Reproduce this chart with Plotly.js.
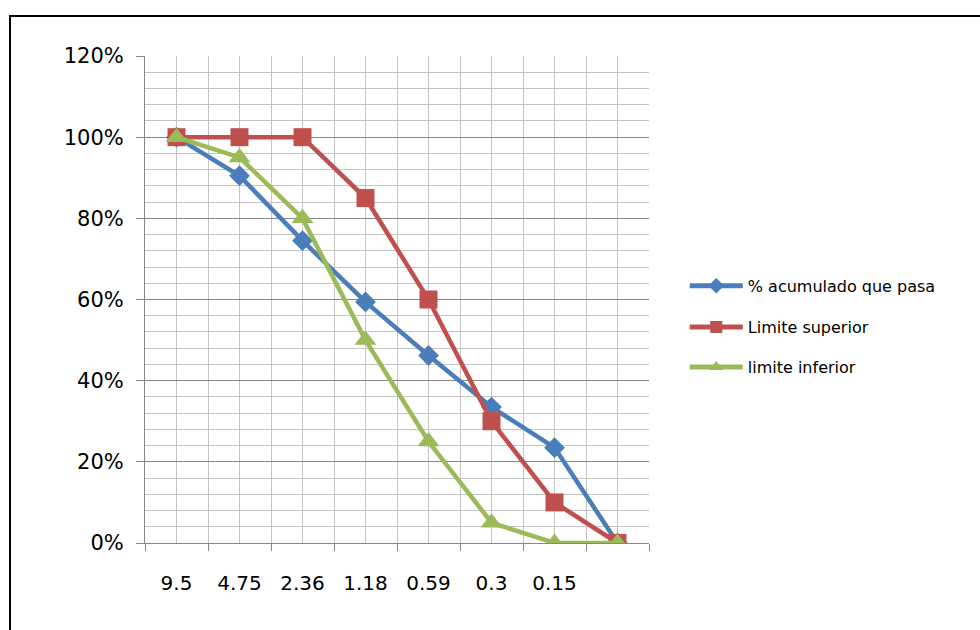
<!DOCTYPE html>
<html>
<head>
<meta charset="utf-8">
<script src="https://cdn.plot.ly/plotly-3.0.1.min.js"></script>
<style>
  html, body { margin: 0; padding: 0; background: #fff; width: 980px; height: 630px; overflow: hidden; }
  #frame { position: absolute; left: 9px; top: 15px; width: 1000px; height: 700px; border: 2px solid #000; box-sizing: border-box; }
  #chart { position: absolute; left: 0; top: 0; width: 980px; height: 630px; }
</style>
</head>
<body>
<div id="frame"></div>
<div id="chart"></div>
<script>
// Sieve sizes (mm); the last category has no label
const categories = ["9.5", "4.75", "2.36", "1.18", "0.59", "0.3", "0.15", ""];
const acumulado = [1.00, 0.905, 0.745, 0.594, 0.462, 0.335, 0.235, 0.00];
const limiteSuperior = [1.00, 1.00, 1.00, 0.85, 0.60, 0.30, 0.10, 0.00];
const limiteInferior = [1.00, 0.95, 0.80, 0.50, 0.25, 0.05, 0.00, 0.00];
const seriesNames = ["% acumulado que pasa", "Limite superior", "limite inferior"];
const yTicks = [0, 0.2, 0.4, 0.6, 0.8, 1.0, 1.2];

const xIdx = categories.map((_, i) => i);
const blue = "#4A7EBB", red = "#C0504D", green = "#9BBB59";

const traces = [
  { x: xIdx, y: acumulado, name: seriesNames[0], type: "scatter", mode: "lines+markers",
    line: { color: blue, width: 4.5 }, marker: { symbol: "diamond", size: 16, color: blue },
    legend: "legend" },
  { x: xIdx, y: limiteSuperior, name: seriesNames[1], type: "scatter", mode: "lines+markers",
    line: { color: red, width: 4.5 }, marker: { symbol: "square", size: 18, color: red },
    legend: "legend2" },
  { x: xIdx, y: limiteInferior, name: seriesNames[2], type: "scatter", mode: "lines+markers",
    line: { color: green, width: 4.5 }, marker: { symbol: "triangle-up", size: 19, color: green },
    legend: "legend3" }
];

const legendBase = {
  xref: "paper", yref: "paper", x: 1.071, xanchor: "left", yanchor: "middle",
  bgcolor: "rgba(0,0,0,0)", borderwidth: 0, itemwidth: 53, itemsizing: "constant",
  font: { family: "DejaVu Sans, sans-serif", size: 16, color: "#000" }
};

const layout = {
  width: 980, height: 630,
  margin: { l: 145, r: 331, t: 56, b: 87 },
  paper_bgcolor: "rgba(0,0,0,0)",
  plot_bgcolor: "rgba(0,0,0,0)",
  font: { family: "DejaVu Sans, sans-serif", color: "#000" },
  showlegend: true,
  legend: Object.assign({}, legendBase, { y: 0.528 }),
  legend2: Object.assign({}, legendBase, { y: 0.4435 }),
  legend3: Object.assign({}, legendBase, { y: 0.361 }),
  xaxis: {
    range: [-0.5, categories.length - 0.5],
    tickmode: "array", tickvals: xIdx, ticktext: categories,
    ticks: "", showgrid: true, gridcolor: "#C4C4C4", gridwidth: 1,
    tickfont: { family: "DejaVu Sans, sans-serif", size: 20, color: "#000" },
    ticklabelstandoff: 22,
    minor: { tick0: -0.5, dtick: 1, ticks: "outside", ticklen: 7, tickcolor: "#868686", tickwidth: 1,
             showgrid: true, gridcolor: "#C4C4C4", gridwidth: 1 },
    showline: true, linecolor: "#868686", linewidth: 1,
    zeroline: false, fixedrange: true
  },
  yaxis: {
    range: [0, 1.2],
    tickmode: "array", tickvals: yTicks, tickformat: ".0%",
    ticks: "outside", ticklen: 8, tickcolor: "#868686",
    showgrid: true, gridcolor: "#868686", gridwidth: 1,
    tickfont: { family: "DejaVu Sans, sans-serif", size: 21, color: "#000" },
    ticklabelstandoff: 8,
    minor: { dtick: 0.04, showgrid: true, gridcolor: "#C4C4C4", gridwidth: 1, ticks: "" },
    showline: true, linecolor: "#868686", linewidth: 1,
    zeroline: false, fixedrange: true
  }
};

Plotly.newPlot("chart", traces, layout, { displayModeBar: false, staticPlot: true });
</script>
</body>
</html>
